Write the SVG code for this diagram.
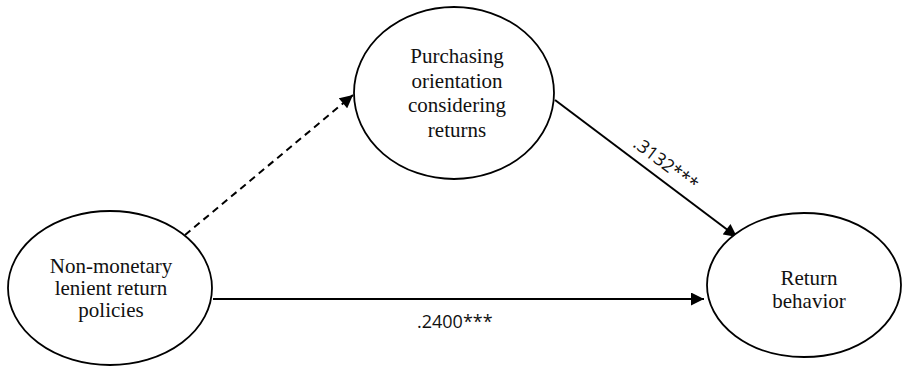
<svg xmlns="http://www.w3.org/2000/svg" width="903" height="368" viewBox="0 0 903 368">
<style>
.node{fill:#fff;stroke:#000;stroke-width:1.8}
.nt{font-family:"Liberation Serif","DejaVu Serif",serif;font-size:21px;fill:#111;text-anchor:middle}
.edge{stroke:#000;stroke-width:2;fill:none}
.lbl{font-family:"Open Sans","Liberation Sans",sans-serif;font-size:18px;fill:#111}
</style>
<defs>
<marker id="ah" viewBox="0 0 10 10" refX="10" refY="5" markerWidth="7" markerHeight="6.5" markerUnits="strokeWidth" orient="auto">
<path d="M0,0 L10,5 L0,10 Z" fill="#000"/>
</marker>
</defs>
<g id="connectors">
<path class="edge" d="M185,235 L353,95" stroke-dasharray="7,5" marker-end="url(#ah)"/>
<path class="edge" d="M555,100 L737,237" marker-end="url(#ah)"/>
<path class="edge" d="M213,299 L704,299" marker-end="url(#ah)"/>
<text class="lbl" x="417" y="328">.2400***</text>
<text class="lbl" transform="translate(632,146) rotate(37)">.3132***</text>
</g>
<g id="n-left">
<ellipse class="node" cx="110" cy="288" rx="102" ry="77"/>
<text class="nt" x="111" y="273">Non-monetary</text>
<text class="nt" x="111" y="295">lenient return</text>
<text class="nt" x="111" y="317">policies</text>
</g>
<g id="n-top">
<ellipse class="node" cx="454" cy="93" rx="100" ry="86"/>
<text class="nt" x="457" y="63">Purchasing</text>
<text class="nt" x="457" y="88">orientation</text>
<text class="nt" x="457" y="112">considering</text>
<text class="nt" x="457" y="137">returns</text>
</g>
<g id="n-right">
<ellipse class="node" cx="804" cy="285" rx="97" ry="72"/>
<text class="nt" x="809" y="285">Return</text>
<text class="nt" x="809" y="308">behavior</text>
</g>
</svg>
